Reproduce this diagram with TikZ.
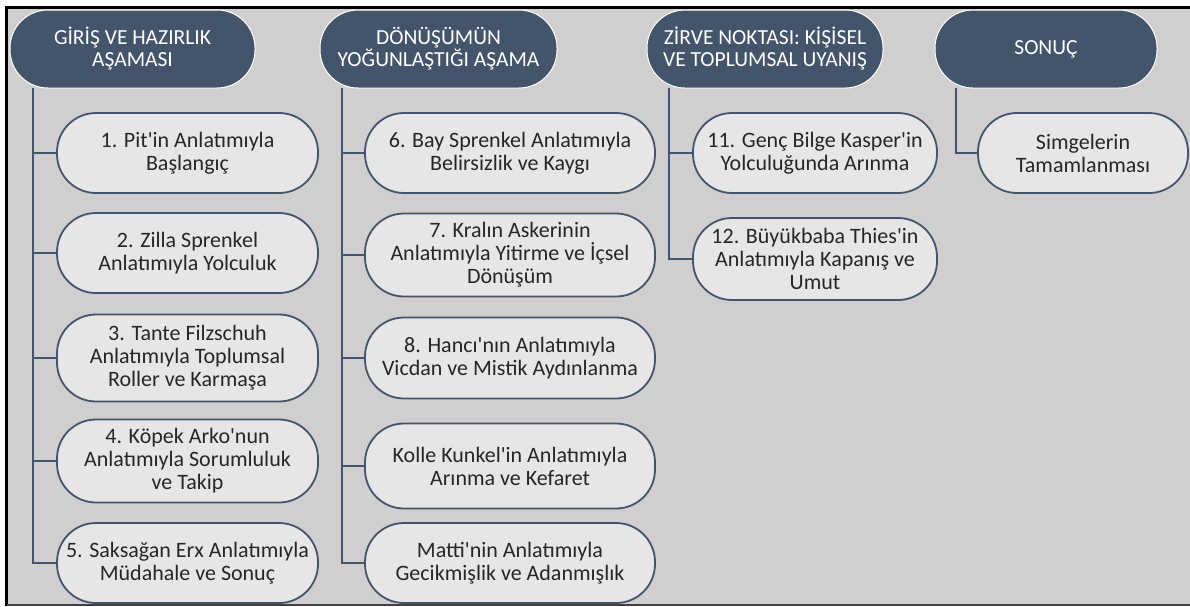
\documentclass[tikz,border=0pt]{standalone}
\usepackage{fontspec}
\setmainfont{Carlito}[Ligatures=TeXOff]
\usetikzlibrary{positioning}

\definecolor{slate}{HTML}{44546A}
\definecolor{panel}{HTML}{D0CECE}
\definecolor{pillfill}{HTML}{E6E6E6}
\definecolor{ink}{HTML}{262626}

\begin{document}
\begin{tikzpicture}[x=1pt, y=-1pt,
  every node/.style={align=center, inner sep=0pt},
  head/.style={rectangle, rounded corners=38pt, fill=slate, draw=white, line width=1pt,
    text=white, font=\fontsize{21.5}{22}\selectfont, minimum height=78pt},
  pill/.style={rectangle, rounded corners=39pt, fill=pillfill, draw=slate, line width=1.8pt,
    text=ink, font=\fontsize{22}{23}\selectfont, minimum height=80pt},
  link/.style={draw=slate, line width=2.5pt}]
  \useasboundingbox (0,0) rectangle (1190,606);
  \fill [panel] (6,7) rectangle (1190,605);
  \draw [black, line width=3pt] (6.5,606) -- (6.5,7) -- (1190,7);
  \draw [black!75, line width=2pt] (6.5,605) -- (1190,605);

  \node (h1) [head, minimum width=245pt] at (132.5,49) {GİRİŞ VE HAZIRLIK\\AŞAMASI};
  \node (h2) [head, minimum width=237pt] at (438.5,49) {DÖNÜŞÜMÜN\\YOĞUNLAŞTIĞI AŞAMA};
  \node (h3) [head, minimum width=236pt] at (765,49) {ZİRVE NOKTASI: KİŞİSEL\\VE TOPLUMSAL UYANIŞ};
  \node (h4) [head, minimum width=222pt] at (1046,49) {SONUÇ};

  \node  (1) [pill, minimum width=261pt] at (187.5,153) {1. Pit'in Anlatımıyla\\Başlangıç};
  \node  (2) [pill, minimum width=261pt] at (187.5,253) {2. Zilla Sprenkel\\Anlatımıyla Yolculuk};
  \node  (3) [pill, minimum width=261pt, minimum height=87pt] at (187.5,358) {3. Tante Filzschuh\\Anlatımıyla Toplumsal\\Roller ve Karmaşa};
  \node  (4) [pill, minimum width=261pt, minimum height=83pt] at (187.5,461) {4. Köpek Arko'nun\\Anlatımıyla Sorumluluk\\ve Takip};
  \node  (5) [pill, minimum width=261pt] at (187.5,563) {5. Saksağan Erx Anlatımıyla\\Müdahale ve Sonuç};
  \node  (6) [pill, minimum width=290pt] at (510,153) {6. Bay Sprenkel Anlatımıyla\\Belirsizlik ve Kaygı};
  \node  (7) [pill, minimum width=290pt, minimum height=83pt] at (510,255) {7. Kralın Askerinin\\Anlatımıyla Yitirme ve İçsel\\Dönüşüm};
  \node  (8) [pill, minimum width=290pt, minimum height=81pt] at (510,358) {8. Hancı'nın Anlatımıyla\\Vicdan ve Mistik Aydınlanma};
  \node  (9) [pill, minimum width=290pt, minimum height=85pt] at (510,466) {Kolle Kunkel'in Anlatımıyla\\Arınma ve Kefaret};
  \node (10) [pill, minimum width=290pt] at (510,563) {Matti'nin Anlatımıyla\\Gecikmişlik ve Adanmışlık};
  \node (11) [pill, minimum width=244pt] at (815,153) {11. Genç Bilge Kasper'in\\Yolculuğunda Arınma};
  \node (12) [pill, minimum width=244pt, minimum height=82pt] at (815,259) {12. Büyükbaba Thies'in\\Anlatımıyla Kapanış ve\\Umut};
  \node (13) [pill, minimum width=210pt] at (1083,153) {Simgelerin\\Tamamlanması};

  \coordinate (t1) at (33,88);
  \coordinate (t2) at (342,88);
  \coordinate (t3) at (669,88);
  \coordinate (t4) at (956,88);

  \draw [link] (t1) |- (1);
  \draw [link] (t1) |- (2);
  \draw [link] (t1) |- (3);
  \draw [link] (t1) |- (4);
  \draw [link] (t1) |- (5);
  \draw [link] (t2) |- (6);
  \draw [link] (t2) |- (7);
  \draw [link] (t2) |- (8);
  \draw [link] (t2) |- (9);
  \draw [link] (t2) |- (10);
  \draw [link] (t3) |- (11);
  \draw [link] (t3) |- (12);
  \draw [link] (t4) |- (13);
\end{tikzpicture}
\end{document}
